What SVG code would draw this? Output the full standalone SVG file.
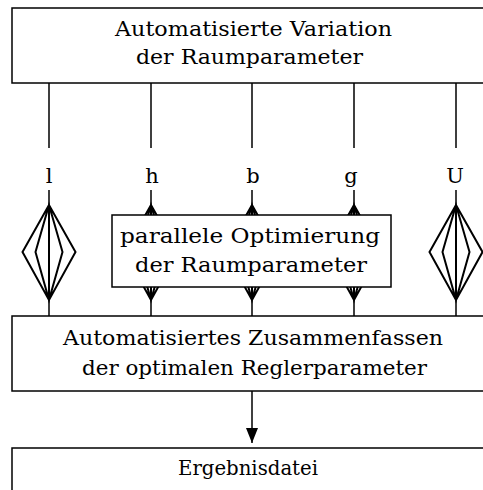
<svg xmlns="http://www.w3.org/2000/svg" width="483" height="490" viewBox="0 0 483 490">
<style>
.box{fill:#fff;stroke:#000;stroke-width:1.5}
.t{font-family:"DejaVu Serif","Liberation Serif",serif;font-size:20px;fill:#000;text-anchor:middle}
.lb{font-size:21px}
.ln{stroke:#000;stroke-width:1.5;fill:none}
.dm{stroke:#000;stroke-width:2;fill:none;stroke-linejoin:miter}
</style>
<defs>
<g id="dia">
<path class="dm" d="M0,0 L-26.5,47 L0,95 L26.5,47 Z M0,0 L-13.5,47 L0,95 L13.5,47 Z M0,0 V95"/>
</g>
<marker id="ah" markerWidth="16" markerHeight="12" refX="15" refY="6" orient="auto" markerUnits="userSpaceOnUse">
<path d="M0,0 L15,6 L0,12 Z" fill="#000"/>
</marker>
</defs>
<g id="connectors">
<path class="ln" d="M49,83 V148 M151,83 V148 M252,83 V148 M354,83 V148 M456,83 V148"/>
<path class="ln" d="M49,190 V205 M151,190 V205 M252,190 V205 M354,190 V205 M456,190 V205"/>
<path class="ln" d="M49,300 V316 M151,300 V316 M252,300 V316 M354,300 V316 M456,300 V316"/>
<use href="#dia" x="49" y="205"/>
<use href="#dia" x="151" y="205"/>
<use href="#dia" x="252" y="205"/>
<use href="#dia" x="354" y="205"/>
<use href="#dia" x="456" y="205"/>
<line class="ln" x1="252" y1="391" x2="252" y2="443" marker-end="url(#ah)"/>
</g>
<g id="top">
<rect class="box" x="12" y="8" width="480" height="75"/>
<text class="t" x="253.5" y="36" textLength="277" lengthAdjust="spacingAndGlyphs">Automatisierte Variation</text>
<text class="t" x="249.5" y="64" textLength="227" lengthAdjust="spacingAndGlyphs">der Raumparameter</text>
</g>
<g id="labels">
<text class="t lb" x="49" y="183">l</text>
<text class="t lb" x="152" y="183">h</text>
<text class="t lb" x="253" y="183">b</text>
<text class="t lb" x="351" y="183">g</text>
<text class="t lb" x="455" y="183">U</text>
</g>
<g id="parallel">
<rect class="box" x="112" y="215" width="279" height="72"/>
<text class="t" x="250" y="243" textLength="260" lengthAdjust="spacingAndGlyphs">parallele Optimierung</text>
<text class="t" x="251" y="272" textLength="232" lengthAdjust="spacingAndGlyphs">der Raumparameter</text>
</g>
<g id="bottom">
<rect class="box" x="12" y="316" width="480" height="75"/>
<text class="t" x="253" y="345" textLength="380" lengthAdjust="spacingAndGlyphs">Automatisiertes Zusammenfassen</text>
<text class="t" x="254.5" y="375" textLength="345" lengthAdjust="spacingAndGlyphs">der optimalen Reglerparameter</text>
</g>
<g id="result">
<rect class="box" x="12" y="448" width="480" height="60"/>
<text class="t" x="248" y="475" textLength="140" lengthAdjust="spacingAndGlyphs">Ergebnisdatei</text>
</g>
</svg>
